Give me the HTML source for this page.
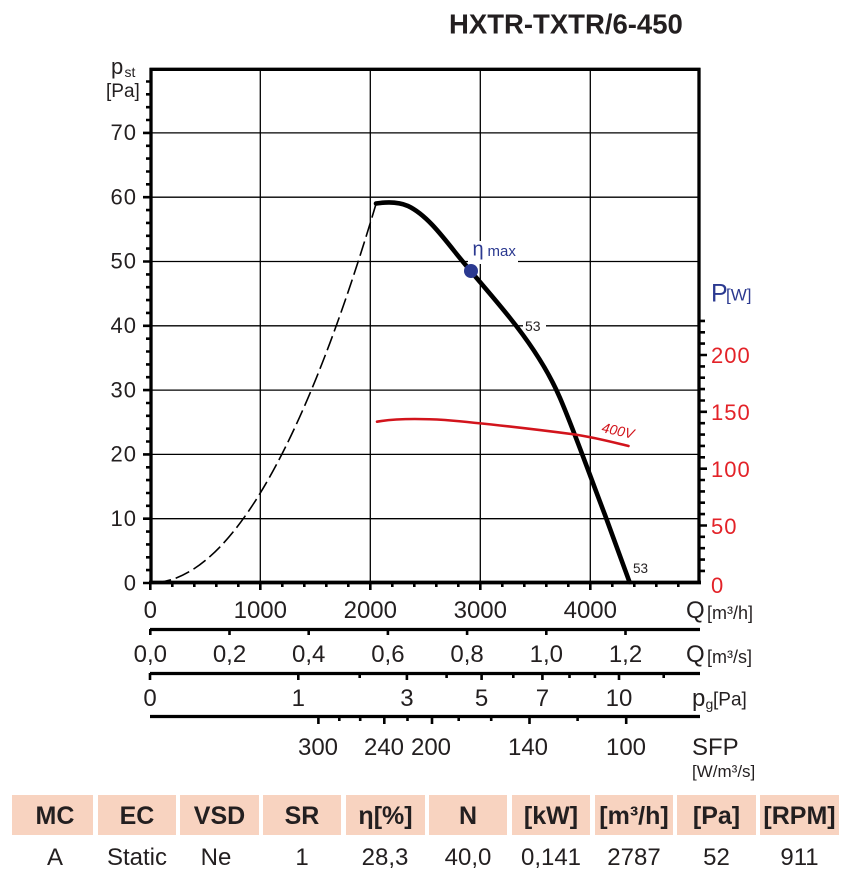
<!DOCTYPE html>
<html><head><meta charset="utf-8"><style>
html,body{margin:0;padding:0;background:#fff;}
svg{display:block;font-family:"Liberation Sans",Arial,sans-serif;}
</style></head><body>
<svg width="848" height="880" viewBox="0 0 848 880" xmlns="http://www.w3.org/2000/svg">
<rect width="848" height="880" fill="#fff"/>
<!-- Title -->
<text x="449" y="33.3" font-size="27.5" font-weight="bold" fill="#231f20">HXTR-TXTR/6-450</text>

<!-- grid -->
<g stroke="#000" stroke-width="1.3" fill="none">
<path d="M260.3 69V582M370.3 69V582M480.3 69V582M590.3 69V582"/>
<path d="M151 132.9H699M151 197.2H699M151 261.5H699M151 325.8H699M151 390.1H699M151 454.4H699M151 518.7H699"/>
</g>

<!-- white label backgrounds -->
<rect x="468" y="241" width="50" height="23" fill="#fff"/>
<rect x="523" y="318" width="23" height="15" fill="#fff"/>

<!-- frame -->
<g stroke="#000" fill="none">
<path d="M149.5 69.3H700.5" stroke-width="3.3"/>
<path d="M151 68V584" stroke-width="3.3"/>
<path d="M699 68V584" stroke-width="3.3"/>
<path d="M149 582.5H701" stroke-width="3.8"/>
</g>

<!-- left axis ticks -->
<g stroke="#000" stroke-width="2.6">
<path d="M143 583h8M143 518.7h8M143 454.4h8M143 390.1h8M143 325.8h8M143 261.5h8M143 197.2h8M143 132.9h8"/>
<path d="M146 570.1h5M146 557.3h5M146 544.4h5M146 531.6h5M146 505.8h5M146 493h5M146 480.1h5M146 467.3h5M146 441.5h5M146 428.7h5M146 415.8h5M146 403h5M146 377.2h5M146 364.4h5M146 351.5h5M146 338.7h5M146 312.9h5M146 300.1h5M146 287.2h5M146 274.4h5M146 248.6h5M146 235.8h5M146 222.9h5M146 210.1h5M146 184.3h5M146 171.5h5M146 158.6h5M146 145.8h5M146 120h5M146 107.2h5M146 94.3h5M146 81.5h5"/>
</g>
<!-- right axis ticks -->
<g stroke="#000" stroke-width="2.6">
<path d="M699 525.5h8M699 468.7h8M699 411.8h8M699 355h8"/>
<path d="M699 570.9h6M699 559.6h6M699 548.2h6M699 536.8h6M699 514.1h6M699 502.7h6M699 491.4h6M699 480h6M699 457.3h6M699 445.9h6M699 434.6h6M699 423.2h6M699 400.5h6M699 389.1h6M699 377.7h6M699 366.4h6M699 343.6h6M699 332.3h6M699 320.9h6"/>
</g>
<!-- bottom axis ticks -->
<g stroke="#000" stroke-width="2.6">
<path d="M150.3 582v8M260.3 582v8M370.3 582v8M480.3 582v8M590.3 582v8"/>
<path d="M172.3 582v5M194.3 582v5M216.3 582v5M238.3 582v5M282.3 582v5M304.3 582v5M326.3 582v5M348.3 582v5M392.3 582v5M414.3 582v5M436.3 582v5M458.3 582v5M502.3 582v5M524.3 582v5M546.3 582v5M568.3 582v5M612.3 582v5M634.3 582v5M656.3 582v5M678.3 582v5"/>
</g>

<!-- left labels -->
<g font-size="22" fill="#231f20" text-anchor="end" letter-spacing="1">
<text x="137" y="140">70</text>
<text x="137" y="204.5">60</text>
<text x="137" y="268.5">50</text>
<text x="137" y="333">40</text>
<text x="137" y="397.5">30</text>
<text x="137" y="461.5">20</text>
<text x="137" y="526">10</text>
<text x="137" y="590.5">0</text>
</g>
<text x="111" y="74" font-size="22" fill="#231f20">p</text>
<text x="124.5" y="77" font-size="14" fill="#231f20">st</text>
<text x="106" y="97" font-size="19" fill="#231f20">[Pa]</text>

<!-- right labels -->
<g font-size="22" fill="#e32228" letter-spacing="1">
<text x="711" y="593">0</text>
<text x="711" y="534">50</text>
<text x="711" y="477">100</text>
<text x="711" y="420">150</text>
<text x="711" y="363">200</text>
</g>
<text x="711" y="301.5" font-size="25" fill="#2b3990">P</text>
<text x="726" y="300.5" font-size="17" fill="#2b3990">[W]</text>

<!-- dashed parabola -->
<path d="M150.3 583 Q263.15 583 376 204" fill="none" stroke="#000" stroke-width="1.6" stroke-dasharray="15 5" stroke-dashoffset="-6"/>

<!-- pressure curve -->
<path d="M376 203.5 C386 202 398 201.5 408 206 C425 214 440 233 455 252 C470 271 490 293 510 318 C530 343 548 370 560 398 C575 433 590 476 605 515 L629.5 582" fill="none" stroke="#000" stroke-width="4.6" stroke-linecap="round" stroke-linejoin="round"/>

<!-- power curve -->
<path d="M377 421.7 C395 418.5 420 418.5 445 420 C480 423 540 430 575 434.5 C595 437.5 612 442 628.5 446" fill="none" stroke="#d2141c" stroke-width="2.6" stroke-linecap="round"/>
<text x="0" y="0" font-size="14" font-style="italic" fill="#d2141c" transform="translate(601 432) rotate(12)">400V</text>

<!-- eta max -->
<circle cx="471" cy="271" r="7" fill="#2b3990"/>
<text x="472.5" y="255.5" font-size="20" fill="#2b3990">η</text>
<text x="487.5" y="256" font-size="15" fill="#2b3990">max</text>

<text x="525" y="331" font-size="14" fill="#231f20">53</text>
<text x="633" y="573" font-size="13.5" fill="#231f20">53</text>

<!-- Q m3/h labels -->
<g font-size="24" fill="#231f20" text-anchor="middle">
<text x="150.3" y="618">0</text>
<text x="260.3" y="618">1000</text>
<text x="370.3" y="618">2000</text>
<text x="480.3" y="618">3000</text>
<text x="590.3" y="618">4000</text>
</g>
<text x="686" y="618" font-size="24" fill="#231f20">Q</text>
<text x="707" y="619" font-size="18" fill="#231f20">[m³/h]</text>

<!-- m3/s axis -->
<path d="M150 629.5H700" stroke="#000" stroke-width="3.2"/>
<path d="M150.3 629v6M229.5 629v6M308.7 629v6M387.9 629v6M467.1 629v6M546.3 629v6M625.5 629v6" stroke="#000" stroke-width="2.6"/>
<g font-size="24" fill="#231f20" text-anchor="middle">
<text x="150.3" y="662">0,0</text>
<text x="229.5" y="662">0,2</text>
<text x="308.7" y="662">0,4</text>
<text x="387.9" y="662">0,6</text>
<text x="467.1" y="662">0,8</text>
<text x="546.3" y="662">1,0</text>
<text x="625.5" y="662">1,2</text>
</g>
<text x="686" y="662" font-size="24" fill="#231f20">Q</text>
<text x="707" y="663" font-size="18" fill="#231f20">[m³/s]</text>

<!-- pg axis -->
<path d="M150 673.5H700" stroke="#000" stroke-width="3.2"/>
<path d="M150 673v7M298.3 673v7M406.9 673v7M481.6 673v7M542.4 673v7M619 673v7" stroke="#000" stroke-width="2.6"/>
<path d="M359.7 673v5M446.6 673v5M513.3 673v5M569.5 673v5M594.9 673v5M663.7 673v5" stroke="#000" stroke-width="2.6"/>
<g font-size="24" fill="#231f20" text-anchor="middle">
<text x="150" y="706">0</text>
<text x="298.3" y="706">1</text>
<text x="406.9" y="706">3</text>
<text x="481.6" y="706">5</text>
<text x="542.4" y="706">7</text>
<text x="619" y="706">10</text>
</g>
<text x="692" y="706" font-size="24" fill="#231f20">p</text>
<text x="705.5" y="709" font-size="14" fill="#231f20">g</text>
<text x="713" y="705.5" font-size="19" fill="#231f20">[Pa]</text>

<!-- SFP axis -->
<path d="M150 716.5H700" stroke="#000" stroke-width="3.2"/>
<path d="M318.4 716v8M384.3 716v8M432 716v8M529.5 716v8M626.2 716v8" stroke="#000" stroke-width="2.6"/>
<path d="M339.3 716v5M360.2 716v5M407.5 716v5M458.7 716v5M491.2 716v5M577.6 716v5" stroke="#000" stroke-width="2.6"/>
<g font-size="24" fill="#231f20" text-anchor="middle">
<text x="318" y="755">300</text>
<text x="384" y="755">240</text>
<text x="431" y="755">200</text>
<text x="528" y="755">140</text>
<text x="626" y="755">100</text>
</g>
<text x="692" y="755" font-size="24" fill="#231f20">SFP</text>
<text x="692" y="777" font-size="17" fill="#231f20">[W/m³/s]</text>

<!-- table -->
<g fill="#f8d3c0">
<rect x="12" y="795" width="81" height="40"/>
<rect x="98" y="795" width="78" height="40"/>
<rect x="180" y="795" width="79" height="40"/>
<rect x="263" y="795" width="78" height="40"/>
<rect x="346" y="795" width="79" height="40"/>
<rect x="429" y="795" width="78" height="40"/>
<rect x="512" y="795" width="78" height="40"/>
<rect x="595" y="795" width="78" height="40"/>
<rect x="677" y="795" width="79" height="40"/>
<rect x="760" y="795" width="79" height="40"/>
</g>
<g font-size="25" font-weight="bold" fill="#231f20" text-anchor="middle">
<text x="55" y="824">MC</text>
<text x="137" y="824">EC</text>
<text x="219.5" y="824">VSD</text>
<text x="302" y="824">SR</text>
<text x="385.5" y="824">η[%]</text>
<text x="468" y="824">N</text>
<text x="551" y="824">[kW]</text>
<text x="634" y="824">[m³/h]</text>
<text x="716.5" y="824">[Pa]</text>
<text x="799.5" y="824">[RPM]</text>
</g>
<g font-size="24" fill="#231f20" text-anchor="middle">
<text x="55" y="865">A</text>
<text x="137" y="865">Static</text>
<text x="216" y="865">Ne</text>
<text x="302" y="865">1</text>
<text x="385" y="865">28,3</text>
<text x="468" y="865">40,0</text>
<text x="551" y="865">0,141</text>
<text x="634" y="865">2787</text>
<text x="716.5" y="865">52</text>
<text x="799.5" y="865">911</text>
</g>
</svg>
</body></html>
